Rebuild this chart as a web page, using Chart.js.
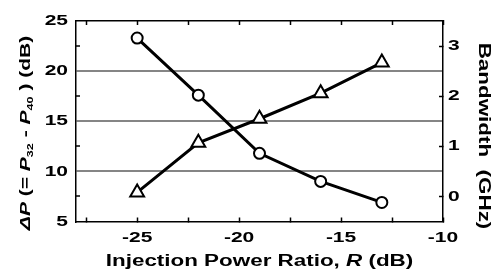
<!DOCTYPE html>
<html>
<head>
<meta charset="utf-8">
<script src="https://cdn.jsdelivr.net/npm/chart.js@4"></script>
<style>
  body { margin: 0; background: #fff; }
  canvas { display: block; }
</style>
</head>
<body>
<canvas id="chart" width="494" height="273"></canvas>
<script>
// data
const injectionRatio = [-25, -22, -19, -16, -13];
const deltaP = [23.3, 17.6, 11.8, 9.0, 6.9];          // left axis, dB
const bandwidth = [0.08, 1.07, 1.55, 2.06, 2.67];     // right axis, GHz

const xTicks = [-27.5, -25, -22.5, -20, -17.5, -15, -12.5, -10];
const leftTicks = [5, 7.5, 10, 12.5, 15, 17.5, 20, 22.5, 25];
const rightTicks = [0, 1, 2, 3];
const gridValues = [10, 15, 20];

const FONT = '"Liberation Sans", Arial, sans-serif';
const GRAY = '#858585';
const STRETCH = 1.4;   // the original lettering is wide

const canvas = document.getElementById('chart');
const ctx = canvas.getContext('2d');

// widen all text drawn on this canvas
const fillText = ctx.fillText.bind(ctx);
ctx.fillText = function (text, x, y) {
  ctx.save();
  ctx.translate(x, y);
  ctx.scale(STRETCH, 1);
  fillText(text, 0, 0);
  ctx.restore();
};

function drawRuns(c, runs, cx, y) {
  let total = 0;
  runs.forEach(r => { c.font = r.font; total += c.measureText(r.text).width * STRETCH; });
  let x = cx - total / 2;
  c.textAlign = 'left';
  c.textBaseline = 'alphabetic';
  runs.forEach(r => {
    c.font = r.font;
    c.fillText(r.text, x, y + (r.dy || 0));
    x += c.measureText(r.text).width * STRETCH;
  });
}

const axisTitles = {
  id: 'axisTitles',
  afterDraw(chart) {
    const c = chart.ctx;
    const b = 'bold 15px ' + FONT, bi = 'italic bold 15px ' + FONT, sub = 'bold 9px ' + FONT;
    c.save();
    c.fillStyle = '#000';

    // bottom
    drawRuns(c, [
      {text: 'Injection Power Ratio, ', font: 'bold 16px ' + FONT},
      {text: 'R', font: 'italic bold 16px ' + FONT},
      {text: ' (dB)', font: 'bold 16px ' + FONT}
    ], (chart.chartArea.left + chart.chartArea.right) / 2, 266);

    // left
    c.save();
    c.translate(29.5, 133);
    c.rotate(-Math.PI / 2);
    drawRuns(c, [
      {text: '\u0394', font: bi},
      {text: 'P', font: bi},
      {text: ' (= ', font: b},
      {text: 'P', font: bi},
      {text: '32', font: sub, dy: 3},
      {text: ' - ', font: b},
      {text: 'P', font: bi},
      {text: '40', font: sub, dy: 3},
      {text: ' ) (dB)', font: b}
    ], 0, 0);
    c.restore();

    // right
    c.save();
    c.translate(478.5, 136);
    c.rotate(Math.PI / 2);
    drawRuns(c, [{text: 'Bandwidth  (GHz)', font: 'bold 16px ' + FONT}], 0, 0);
    c.restore();

    c.restore();
  }
};

const tickFont = {family: FONT, size: 15, weight: 'bold'};
const every5 = v => (v % 5 === 0 ? String(v) : '');

new Chart(ctx, {
  type: 'line',
  data: {
    datasets: [{
      data: injectionRatio.map((x, i) => ({x: x, y: deltaP[i]})),
      xAxisID: 'x',
      yAxisID: 'y',
      borderColor: '#000',
      borderWidth: 3,
      pointStyle: 'circle',
      pointRadius: 5.5,
      pointBorderWidth: 2,
      pointBorderColor: '#000',
      pointBackgroundColor: '#fff'
    }, {
      data: injectionRatio.map((x, i) => ({x: x, y: bandwidth[i]})),
      xAxisID: 'x',
      yAxisID: 'y2',
      borderColor: '#000',
      borderWidth: 3,
      pointStyle: 'triangle',
      pointRadius: 8,
      pointBorderWidth: 2,
      pointBorderColor: '#000',
      pointBackgroundColor: '#fff'
    }]
  },
  options: {
    responsive: false,
    animation: false,
    devicePixelRatio: 1,
    layout: {padding: 0},
    plugins: {legend: {display: false}, tooltip: {enabled: false}},
    scales: {
      x: {
        type: 'linear',
        position: 'bottom',
        min: -28,
        max: -10,
        afterBuildTicks: s => { s.ticks = xTicks.map(v => ({value: v})); },
        afterFit: s => { s.height = 51.5; },
        grid: {drawOnChartArea: false, tickLength: -4, tickColor: '#000', tickWidth: 1.5},
        border: {color: '#000', width: 1.5},
        ticks: {padding: 11, color: '#000', font: tickFont, maxRotation: 0, autoSkip: false, callback: every5}
      },
      x2: {
        type: 'linear',
        position: 'top',
        min: -28,
        max: -10,
        afterBuildTicks: s => { s.ticks = xTicks.map(v => ({value: v})); },
        afterFit: s => { s.height = 17.5; },
        grid: {drawOnChartArea: false, tickLength: -4, tickColor: '#000', tickWidth: 1.5},
        border: {color: '#000', width: 1.5},
        ticks: {display: false}
      },
      y: {
        type: 'linear',
        position: 'left',
        min: 5,
        max: 25,
        afterBuildTicks: s => { s.ticks = leftTicks.map(v => ({value: v})); },
        afterFit: s => { s.width = 76; },
        grid: {
          color: c => (gridValues.includes(c.tick.value) ? GRAY : 'rgba(0,0,0,0)'),
          lineWidth: 2,
          tickLength: -4,
          tickWidth: 1.5,
          tickColor: c => (c.tick.value % 5 === 0 ? 'rgba(0,0,0,0)' : '#000')
        },
        border: {color: '#000', width: 1.5},
        ticks: {padding: 12, color: '#000', font: tickFont, autoSkip: false, callback: every5}
      },
      y2: {
        type: 'linear',
        position: 'right',
        min: -0.5,
        max: 3.5,
        afterBuildTicks: s => { s.ticks = rightTicks.map(v => ({value: v})); },
        afterFit: s => { s.width = 51; },
        grid: {drawOnChartArea: false, tickLength: -4, tickColor: '#000', tickWidth: 1.5},
        border: {color: '#000', width: 1.5},
        ticks: {padding: 9, color: '#000', font: tickFont, autoSkip: false, callback: v => String(v)}
      }
    }
  },
  plugins: [axisTitles]
});
</script>
</body>
</html>
